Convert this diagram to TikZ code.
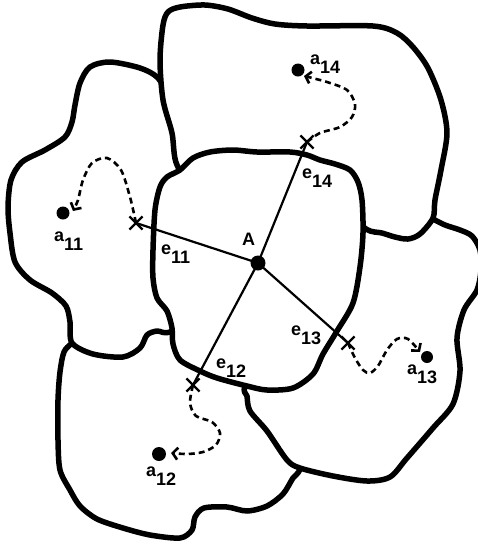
\documentclass[tikz,border=0pt]{standalone}
\usepackage{fontspec}
\setmainfont{Liberation Sans}[BoldFont={Liberation Sans Bold}]
\usetikzlibrary{arrows.meta,shapes.misc}
\tikzset{
 blob/.style={draw=black, fill=white, line width=5.5pt, line join=round},
 edgeline/.style={line width=2.2pt},
 walk/.style={line width=2.6pt, dash pattern=on 6pt off 4pt, -{Straight Barb[length=5pt,width=12pt]}},
 xmark/.style={cross out, draw, line width=2.2pt, minimum size=11pt, inner sep=0pt},
 spot/.style={circle, fill=black, inner sep=0pt, minimum size=#1},
 lab/.style={anchor=base west, inner sep=0pt, font=\bfseries\fontsize{18}{20}\selectfont},
}
\newcommand\sublab[2]{#1\raisebox{-9pt}{#2}}
\begin{document}
\begin{tikzpicture}[x=1pt,y=-1pt]
\useasboundingbox (0,0) rectangle (478,542);
\clip (0,0) rectangle (478,542);
% bottom region (12)
\draw[blob] plot[smooth cycle] coordinates {(72,343) (64,352) (60,372) (58,400) (58,440) (60,470) (70,490) (80,506) (97,519) (123,528) (150,535) (180,538) (192,530) (195,517) (204,508) (227,507) (247,511) (267,506) (283,494) (293,478) (300,469) (305,440) (270,400) (220,360) (200,320) (130,318) (88,328)};
% left region (11)
\draw[blob] plot[smooth cycle] coordinates {(158,78) (140,68) (110,62) (90,67) (80,83) (75,105) (72,122) (65,137) (45,150) (22,162) (11,180) (8,207) (10,233) (15,262) (30,280) (52,293) (66,306) (70,322) (72,343) (93,354) (123,357) (140,348) (147,335) (157,331) (172,331) (215,300) (215,210) (190,150) (170,100)};
% right region (13)
\draw[blob] plot[smooth cycle] coordinates {(433,219) (445,225) (460,230) (472,236) (480,250) (481,270) (477,290) (464,310) (457,338) (460,371) (453,404) (433,428) (407,458) (390,477) (367,481) (333,476) (300,468) (287,460) (267,431) (250,411) (247,396) (246,385) (280,340) (300,260) (340,200) (390,213) (420,212)};
% top region (14)
\draw[blob] plot[smooth cycle] coordinates {(177,165) (172,133) (163,100) (160,60) (163,25) (168,12) (180,7) (205,5) (228,9) (252,18) (275,24) (307,26) (373,26) (397,33) (413,47) (428,68) (441,100) (447,133) (441,170) (435,200) (433,218) (420,234) (408,239) (395,237) (382,233) (366,229) (340,205) (260,185) (200,192)};
% central region A
\draw[blob] plot[smooth cycle] coordinates {(160,187) (167,177) (180,170) (193,158) (210,152) (233,150) (257,152) (290,152) (307,155) (320,160) (335,164) (350,170) (358,182) (362,200) (363,233) (360,267) (353,303) (337,331) (323,354) (313,374) (293,388) (267,390) (247,386) (217,378) (200,371) (180,360) (173,344) (172,328) (167,311) (157,298) (153,278) (153,250) (155,210)};

% points
\node[spot=15pt] (A) at (258,263) {};
\node[spot=13pt] (a11) at (63,213) {};
\node[spot=13pt] (a14) at (298,70) {};
\node[spot=12pt] (a13) at (427,357) {};
\node[spot=14pt] (a12) at (159,454) {};

\coordinate (s11) at (136,223);
\coordinate (s14) at (307,142);
\coordinate (s13) at (348,343);
\coordinate (s12) at (193,385);
\node[xmark] (x11) at (s11) {};
\node[xmark] (x14) at (s14) {};
\node[xmark] (x13) at (s13) {};
\node[xmark] (x12) at (s12) {};

\draw[edgeline] (A.center) -- (x11.center);
\draw[edgeline] (A.center) -- (x14.center);
\draw[edgeline] (A.center) -- (x13.center);
\draw[edgeline] (A.center) -- (x12.center);

\coordinate (t11) at (73,211);
\coordinate (t14) at (304,76);
\coordinate (t13) at (420,352);
\coordinate (t12) at (171,453);
\draw[walk] plot[smooth] coordinates {(s11) (130,197) (121,170) (107,158) (92,163) (83,180) (78,200) (t11)};
\draw[walk] plot[smooth] coordinates {(s14) (320,133) (340,127) (352,117) (355,104) (347,90) (327,82) (t14)};
\draw[walk] plot[smooth] coordinates {(s13) (355,358) (363,370) (370,373) (378,366) (387,350) (397,339) (408,339) (t13)};
\draw[walk] plot[smooth] coordinates {(s12) (190,403) (196,416) (212,422) (220,433) (216,445) (203,452) (187,454) (t12)};

% labels
\node[lab] (lA) at (242,245) {A};
\node[lab] (l14) at (310,64) {\sublab{a}{14}};
\node[lab] (l11) at (54,241) {\sublab{a}{11}};
\node[lab] (le11) at (161,254) {\sublab{e}{11}};
\node[lab] (le14) at (302,178) {\sublab{e}{14}};
\node[lab] (le13) at (291,335) {\sublab{e}{13}};
\node[lab] (le12) at (216,368) {\sublab{e}{12}};
\node[lab] (l13) at (407,374) {\sublab{a}{13}};
\node[lab] (l12) at (146,476) {\sublab{a}{12}};
\end{tikzpicture}
\end{document}
